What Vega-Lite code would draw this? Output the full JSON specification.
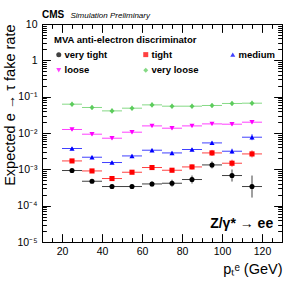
{
  "$schema": "https://vega.github.io/schema/vega-lite/v6.json",
  "width": 240,
  "height": 218,
  "autosize": {"type": "none"},
  "padding": {"left": 42, "top": 24, "right": 15, "bottom": 43},
  "config": {
    "view": {"stroke": "black", "strokeWidth": 1},
    "axis": {"domain": false, "ticks": false, "gridColor": "black", "gridWidth": 1, "gridOpacity": 1},
    "legend": {"orient": "none", "legendX": 12, "legendY": 11, "columns": 3, "direction": "horizontal", "gridAlign": "all", "columnPadding": 29, "rowPadding": 5, "padding": 0, "titleFontSize": 9.5, "titleFontWeight": "bold", "titleColor": "black", "titleFont": "Liberation Sans", "titlePadding": 5, "titleLimit": 300, "labelFontSize": 9.5, "labelFontWeight": "bold", "labelColor": "black", "labelFont": "Liberation Sans", "labelOffset": 1, "symbolSize": 25, "symbolStrokeWidth": 0}
  },
  "data": {"values": [
    {"wp": "very tight", "pt": 25, "ptlo": 20, "pthi": 30, "rate": 0.000927, "lo": 0.000843, "hi": 0.00102},
    {"wp": "very tight", "pt": 35, "ptlo": 30, "pthi": 40, "rate": 0.00047, "lo": 0.000427, "hi": 0.000517},
    {"wp": "very tight", "pt": 45, "ptlo": 40, "pthi": 50, "rate": 0.000336, "lo": 0.000296, "hi": 0.000381},
    {"wp": "very tight", "pt": 55, "ptlo": 50, "pthi": 60, "rate": 0.000336, "lo": 0.000296, "hi": 0.000381},
    {"wp": "very tight", "pt": 65, "ptlo": 60, "pthi": 70, "rate": 0.000396, "lo": 0.000338, "hi": 0.000464},
    {"wp": "very tight", "pt": 75, "ptlo": 70, "pthi": 80, "rate": 0.000414, "lo": 0.000332, "hi": 0.000517},
    {"wp": "very tight", "pt": 85, "ptlo": 80, "pthi": 90, "rate": 0.000524, "lo": 0.000407, "hi": 0.000675},
    {"wp": "very tight", "pt": 95, "ptlo": 90, "pthi": 100, "rate": 0.001322, "lo": 0.00106, "hi": 0.00165},
    {"wp": "very tight", "pt": 105, "ptlo": 100, "pthi": 110, "rate": 0.000675, "lo": 0.000461, "hi": 0.000988},
    {"wp": "very tight", "pt": 115, "ptlo": 110, "pthi": 120, "rate": 0.000336, "lo": 0.000167, "hi": 0.000675},
    {"wp": "tight", "pt": 25, "ptlo": 20, "pthi": 30, "rate": 0.001703, "lo": 0.00155, "hi": 0.00187},
    {"wp": "tight", "pt": 35, "ptlo": 30, "pthi": 40, "rate": 0.000903, "lo": 0.000821, "hi": 0.000993},
    {"wp": "tight", "pt": 45, "ptlo": 40, "pthi": 50, "rate": 0.000558, "lo": 0.000507, "hi": 0.000614},
    {"wp": "tight", "pt": 55, "ptlo": 50, "pthi": 60, "rate": 0.000832, "lo": 0.000757, "hi": 0.000915},
    {"wp": "tight", "pt": 65, "ptlo": 60, "pthi": 70, "rate": 0.001121, "lo": 0.000988, "hi": 0.001272},
    {"wp": "tight", "pt": 75, "ptlo": 70, "pthi": 80, "rate": 0.000944, "lo": 0.000832, "hi": 0.00107},
    {"wp": "tight", "pt": 85, "ptlo": 80, "pthi": 90, "rate": 0.001165, "lo": 0.000994, "hi": 0.001365},
    {"wp": "tight", "pt": 95, "ptlo": 90, "pthi": 100, "rate": 0.002829, "lo": 0.002338, "hi": 0.003423},
    {"wp": "tight", "pt": 105, "ptlo": 100, "pthi": 110, "rate": 0.001472, "lo": 0.00118, "hi": 0.001837},
    {"wp": "tight", "pt": 115, "ptlo": 110, "pthi": 120, "rate": 0.002655, "lo": 0.002127, "hi": 0.003313},
    {"wp": "medium", "pt": 25, "ptlo": 20, "pthi": 30, "rate": 0.003741, "lo": 0.003402, "hi": 0.004114},
    {"wp": "medium", "pt": 35, "ptlo": 30, "pthi": 40, "rate": 0.002154, "lo": 0.001959, "hi": 0.002369},
    {"wp": "medium", "pt": 45, "ptlo": 40, "pthi": 50, "rate": 0.001539, "lo": 0.0014, "hi": 0.001692},
    {"wp": "medium", "pt": 55, "ptlo": 50, "pthi": 60, "rate": 0.002339, "lo": 0.002127, "hi": 0.002572},
    {"wp": "medium", "pt": 65, "ptlo": 60, "pthi": 70, "rate": 0.003359, "lo": 0.003054, "hi": 0.003694},
    {"wp": "medium", "pt": 75, "ptlo": 70, "pthi": 80, "rate": 0.002829, "lo": 0.002573, "hi": 0.003111},
    {"wp": "medium", "pt": 85, "ptlo": 80, "pthi": 90, "rate": 0.003512, "lo": 0.003194, "hi": 0.003862},
    {"wp": "medium", "pt": 95, "ptlo": 90, "pthi": 100, "rate": 0.005337, "lo": 0.004702, "hi": 0.006057},
    {"wp": "medium", "pt": 105, "ptlo": 100, "pthi": 110, "rate": 0.003151, "lo": 0.002689, "hi": 0.003693},
    {"wp": "medium", "pt": 115, "ptlo": 110, "pthi": 120, "rate": 0.007658, "lo": 0.006329, "hi": 0.009266},
    {"wp": "loose", "pt": 25, "ptlo": 20, "pthi": 30, "rate": 0.01249, "lo": 0.01136, "hi": 0.01374},
    {"wp": "loose", "pt": 35, "ptlo": 30, "pthi": 40, "rate": 0.00927, "lo": 0.00843, "hi": 0.01019},
    {"wp": "loose", "pt": 45, "ptlo": 40, "pthi": 50, "rate": 0.00719, "lo": 0.00654, "hi": 0.00791},
    {"wp": "loose", "pt": 55, "ptlo": 50, "pthi": 60, "rate": 0.01052, "lo": 0.00957, "hi": 0.01157},
    {"wp": "loose", "pt": 65, "ptlo": 60, "pthi": 70, "rate": 0.01569, "lo": 0.01427, "hi": 0.01725},
    {"wp": "loose", "pt": 75, "ptlo": 70, "pthi": 80, "rate": 0.01356, "lo": 0.01233, "hi": 0.01491},
    {"wp": "loose", "pt": 85, "ptlo": 80, "pthi": 90, "rate": 0.01569, "lo": 0.01427, "hi": 0.01725},
    {"wp": "loose", "pt": 95, "ptlo": 90, "pthi": 100, "rate": 0.01781, "lo": 0.0162, "hi": 0.01959},
    {"wp": "loose", "pt": 105, "ptlo": 100, "pthi": 110, "rate": 0.01747, "lo": 0.01589, "hi": 0.01921},
    {"wp": "loose", "pt": 115, "ptlo": 110, "pthi": 120, "rate": 0.01984, "lo": 0.01804, "hi": 0.02182},
    {"wp": "very loose", "pt": 25, "ptlo": 20, "pthi": 30, "rate": 0.0621, "lo": 0.053, "hi": 0.0728},
    {"wp": "very loose", "pt": 35, "ptlo": 30, "pthi": 40, "rate": 0.0504, "lo": 0.043, "hi": 0.0591},
    {"wp": "very loose", "pt": 45, "ptlo": 40, "pthi": 50, "rate": 0.0406, "lo": 0.0346, "hi": 0.0476},
    {"wp": "very loose", "pt": 55, "ptlo": 50, "pthi": 60, "rate": 0.0482, "lo": 0.0411, "hi": 0.0565},
    {"wp": "very loose", "pt": 65, "ptlo": 60, "pthi": 70, "rate": 0.0594, "lo": 0.0507, "hi": 0.0696},
    {"wp": "very loose", "pt": 75, "ptlo": 70, "pthi": 80, "rate": 0.0547, "lo": 0.0467, "hi": 0.0641},
    {"wp": "very loose", "pt": 85, "ptlo": 80, "pthi": 90, "rate": 0.0547, "lo": 0.0467, "hi": 0.0641},
    {"wp": "very loose", "pt": 95, "ptlo": 90, "pthi": 100, "rate": 0.0572, "lo": 0.0488, "hi": 0.067},
    {"wp": "very loose", "pt": 105, "ptlo": 100, "pthi": 110, "rate": 0.065, "lo": 0.0555, "hi": 0.0762},
    {"wp": "very loose", "pt": 115, "ptlo": 110, "pthi": 120, "rate": 0.0662, "lo": 0.0565, "hi": 0.0776}
  ]},
  "resolve": {"axis": {"x": "independent", "y": "independent"}},
  "layer": [
    {
      "mark": {"type": "rule", "strokeWidth": 1, "opacity": 0.75},
      "encoding": {
        "x": {"field": "ptlo", "type": "quantitative", "scale": {"domain": [10, 130], "nice": false, "zero": false},
          "axis": {"orient": "bottom", "values": [20, 40, 60, 80, 100, 120], "grid": true, "gridDash": [8, 202, 8], "labelPadding": 4, "labelFont": "Liberation Sans", "labelColor": "black", "labelFontSize": 10.5, "labelFlush": false, "title": "pₜᵉ (GeV)", "titleFont": "Liberation Sans", "titleColor": "black", "titleFontSize": 14.5, "titleFontWeight": "normal", "titleAnchor": "end", "titleAlign": "right", "titleBaseline": "alphabetic", "titleX": 240, "titleY": 31}},
        "x2": {"field": "pthi"},
        "y": {"field": "rate", "type": "quantitative", "scale": {"type": "log", "domain": [0.00001, 10], "nice": false},
          "axis": {"orient": "left", "values": [0.00001, 0.0001, 0.001, 0.01, 0.1, 1, 10], "grid": true, "gridDash": [8, 224, 8], "labelPadding": 5, "labelFont": "Liberation Sans", "labelColor": "black", "labelFontSize": 10.5, "labelFlush": false,
            "labelExpr": "datum.value >= 9 ? '10' : datum.value >= 0.9 ? '1' : '10' + ['⁻¹','⁻²','⁻³','⁻⁴','⁻⁵'][round(-log(datum.value)/LN10) - 1]",
            "title": "Expected e → τ fake rate", "titleFont": "Liberation Sans", "titleColor": "black", "titleFontSize": 14.5, "titleFontWeight": "normal", "titleAnchor": "end", "titleAngle": -90, "titleAlign": "right", "titleBaseline": "alphabetic", "titleX": -28, "titleY": 0}},
        "color": {"field": "wp", "type": "nominal", "scale": {"domain": ["very tight", "tight", "medium", "loose", "very loose"], "range": ["#000000", "#ff0000", "#0000ff", "#ff00ff", "#5ccc5c"]}, "title": "MVA anti-electron discriminator"}
      }
    },
    {
      "mark": {"type": "rule", "strokeWidth": 1, "opacity": 0.75},
      "encoding": {
        "x": {"field": "pt", "type": "quantitative", "scale": {"domain": [10, 130], "nice": false, "zero": false},
          "axis": {"orient": "top", "values": [15, 25, 30, 35, 45, 50, 55, 65, 70, 75, 85, 90, 95, 105, 110, 115, 125], "grid": true, "gridDash": [4, 210, 4], "labels": false, "title": null}},
        "y": {"field": "lo", "type": "quantitative", "scale": {"type": "log", "domain": [0.00001, 10], "nice": false},
          "axis": {"orient": "right", "values": [0.00002, 0.00003, 0.00004, 0.00005, 0.00006, 0.00007, 0.00008, 0.00009, 0.0002, 0.0003, 0.0004, 0.0005, 0.0006, 0.0007, 0.0008, 0.0009, 0.002, 0.003, 0.004, 0.005, 0.006, 0.007, 0.008, 0.009, 0.02, 0.03, 0.04, 0.05, 0.06, 0.07, 0.08, 0.09, 0.2, 0.3, 0.4, 0.5, 0.6, 0.7, 0.8, 0.9, 2, 3, 4, 5, 6, 7, 8, 9], "grid": true, "gridDash": [4, 232, 4], "labels": false, "title": null}},
        "y2": {"field": "hi"},
        "color": {"field": "wp", "type": "nominal", "scale": {"domain": ["very tight", "tight", "medium", "loose", "very loose"], "range": ["#000000", "#ff0000", "#0000ff", "#ff00ff", "#5ccc5c"]}, "title": "MVA anti-electron discriminator"}
      }
    },
    {
      "mark": {"type": "point", "filled": true, "opacity": 1, "size": 26},
      "encoding": {
        "x": {"field": "pt", "type": "quantitative", "scale": {"domain": [10, 130], "nice": false, "zero": false},
          "axis": {"orient": "top", "values": [15, 25, 30, 35, 45, 50, 55, 65, 70, 75, 85, 90, 95, 105, 110, 115, 125], "grid": true, "gridDash": [4, 210, 4], "labels": false, "title": null}},
        "y": {"field": "rate", "type": "quantitative", "scale": {"type": "log", "domain": [0.00001, 10], "nice": false},
          "axis": {"orient": "right", "values": [0.00002, 0.00003, 0.00004, 0.00005, 0.00006, 0.00007, 0.00008, 0.00009, 0.0002, 0.0003, 0.0004, 0.0005, 0.0006, 0.0007, 0.0008, 0.0009, 0.002, 0.003, 0.004, 0.005, 0.006, 0.007, 0.008, 0.009, 0.02, 0.03, 0.04, 0.05, 0.06, 0.07, 0.08, 0.09, 0.2, 0.3, 0.4, 0.5, 0.6, 0.7, 0.8, 0.9, 2, 3, 4, 5, 6, 7, 8, 9], "grid": true, "gridDash": [4, 232, 4], "labels": false, "title": null}},
        "color": {"field": "wp", "type": "nominal", "scale": {"domain": ["very tight", "tight", "medium", "loose", "very loose"], "range": ["#000000", "#ff0000", "#0000ff", "#ff00ff", "#5ccc5c"]}, "title": "MVA anti-electron discriminator"},
        "shape": {"field": "wp", "type": "nominal", "scale": {"domain": ["very tight", "tight", "medium", "loose", "very loose"], "range": ["circle", "square", "triangle-up", "triangle-down", "diamond"]}, "title": "MVA anti-electron discriminator"}
      }
    },
    {
      "data": {"values": [{}]},
      "mark": {"type": "text", "text": "Z/γ* → ee", "font": "Liberation Sans", "fontSize": 14, "fontWeight": "bold", "align": "right", "baseline": "alphabetic", "color": "black"},
      "encoding": {
        "x": {"datum": 125.6, "type": "quantitative", "scale": {"domain": [10, 130], "nice": false, "zero": false},
          "axis": {"orient": "top", "values": [20, 40, 60, 80, 100, 120], "grid": true, "gridDash": [8, 202, 8], "labels": false, "title": null}},
        "y": {"datum": 0.0000243, "type": "quantitative", "scale": {"type": "log", "domain": [0.00001, 10], "nice": false},
          "axis": {"orient": "right", "values": [0.00001, 0.0001, 0.001, 0.01, 0.1, 1, 10], "grid": true, "gridDash": [8, 224, 8], "labels": false, "title": null}}
      }
    },
    {
      "data": {"values": [{}]},
      "mark": {"type": "text", "text": "CMS", "font": "Liberation Sans", "fontSize": 10, "fontWeight": "bold", "align": "left", "baseline": "alphabetic", "color": "black"},
      "encoding": {
        "x": {"datum": 10, "type": "quantitative", "scale": {"domain": [10, 130], "nice": false, "zero": false},
          "axis": {"orient": "top", "values": [20, 40, 60, 80, 100, 120], "grid": true, "gridDash": [8, 202, 8], "labels": false, "title": null}},
        "y": {"datum": 14.3, "type": "quantitative", "scale": {"type": "log", "domain": [0.00001, 10], "nice": false},
          "axis": {"orient": "right", "values": [0.00001, 0.0001, 0.001, 0.01, 0.1, 1, 10], "grid": true, "gridDash": [8, 224, 8], "labels": false, "title": null}}
      }
    },
    {
      "data": {"values": [{}]},
      "mark": {"type": "text", "text": "Simulation Preliminary", "font": "Liberation Sans", "fontSize": 8, "fontStyle": "italic", "align": "left", "baseline": "alphabetic", "color": "black"},
      "encoding": {
        "x": {"datum": 24.2, "type": "quantitative", "scale": {"domain": [10, 130], "nice": false, "zero": false},
          "axis": {"orient": "top", "values": [15, 25, 30, 35, 45, 50, 55, 65, 70, 75, 85, 90, 95, 105, 110, 115, 125], "grid": true, "gridDash": [4, 210, 4], "labels": false, "title": null}},
        "y": {"datum": 14.3, "type": "quantitative", "scale": {"type": "log", "domain": [0.00001, 10], "nice": false},
          "axis": {"orient": "right", "values": [0.00002, 0.00003, 0.00004, 0.00005, 0.00006, 0.00007, 0.00008, 0.00009, 0.0002, 0.0003, 0.0004, 0.0005, 0.0006, 0.0007, 0.0008, 0.0009, 0.002, 0.003, 0.004, 0.005, 0.006, 0.007, 0.008, 0.009, 0.02, 0.03, 0.04, 0.05, 0.06, 0.07, 0.08, 0.09, 0.2, 0.3, 0.4, 0.5, 0.6, 0.7, 0.8, 0.9, 2, 3, 4, 5, 6, 7, 8, 9], "grid": true, "gridDash": [4, 232, 4], "labels": false, "title": null}}
      }
    }
  ]
}
